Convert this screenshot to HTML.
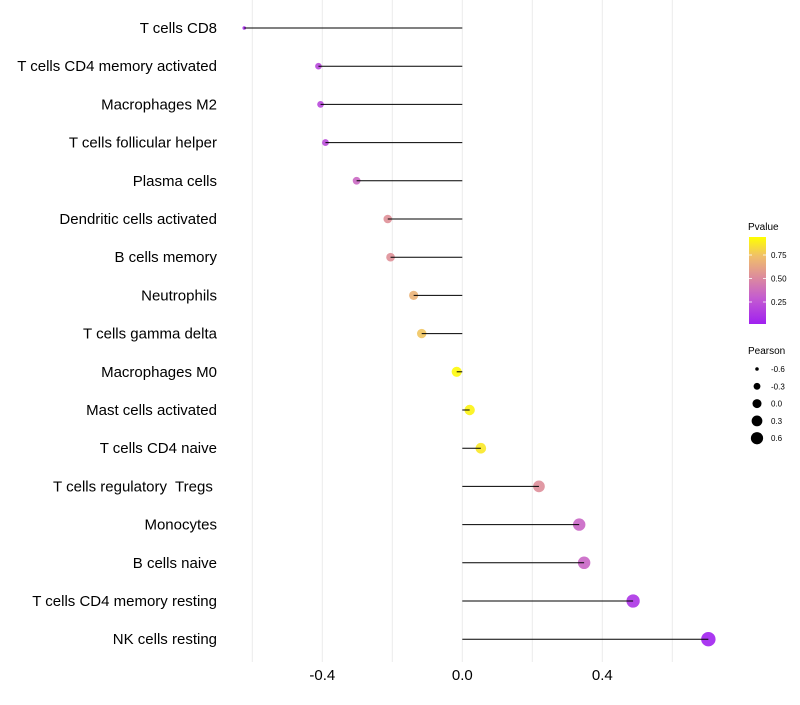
<!DOCTYPE html>
<html><head><meta charset="utf-8"><style>
body{margin:0;background:#fff;font-family:"Liberation Sans",sans-serif}
svg text{font-family:"Liberation Sans",sans-serif;white-space:pre}
</style></head><body>
<svg id="chart" width="800" height="700">
<defs><linearGradient id="pg" x1="0" y1="1" x2="0" y2="0">
<stop offset="0" stop-color="#A020F0"/><stop offset="0.3" stop-color="#C45CD0"/><stop offset="0.55" stop-color="#DE8E9A"/><stop offset="0.78" stop-color="#F0BF6A"/><stop offset="1" stop-color="#FFFF00"/></linearGradient></defs>
<g id="grid"></g>
<g id="marks"></g>
<g id="labels"></g>
<g id="xt"></g>
<g>
<text x="748" y="230" font-size="10">Pvalue</text>
<rect x="749" y="237" width="17" height="87" fill="url(#pg)"/>
<g id="cbt"></g>
</g>
<g id="sizeleg">
<text x="748" y="354" font-size="10">Pearson</text>
</g>
</svg>
<script>
const cells=["T cells CD8","T cells CD4 memory activated","Macrophages M2","T cells follicular helper","Plasma cells","Dendritic cells activated","B cells memory","Neutrophils","T cells gamma delta","Macrophages M0","Mast cells activated","T cells CD4 naive","T cells regulatory  Tregs ","Monocytes","B cells naive","T cells CD4 memory resting","NK cells resting"];
const pearson=[-0.623,-0.411,-0.405,-0.391,-0.302,-0.213,-0.205,-0.139,-0.116,-0.016,0.021,0.053,0.219,0.334,0.348,0.488,0.703];
const pvalue=[0.05,0.2,0.2,0.22,0.36,0.56,0.56,0.72,0.8,0.98,0.96,0.92,0.55,0.35,0.35,0.1,0.01];
const xTicks=[-0.4,0.0,0.4];
const xGrid=[-0.6,-0.4,-0.2,0,0.2,0.4,0.6];
const cbTicks=[0.25,0.5,0.75];
const sizeKeys=[-0.6,-0.3,0.0,0.3,0.6];
const NS="http://www.w3.org/2000/svg";
const X=v=>462.3+v*350;
const Y=i=>28+i*38.2;
const R=v=>Math.sqrt(Math.max(1,26.2+36.9*v));
const stops=[[0,[160,32,240]],[0.3,[196,92,208]],[0.55,[222,142,154]],[0.78,[240,191,106]],[1,[255,255,0]]];
function col(p){for(let i=1;i<stops.length;i++){if(p<=stops[i][0]){const a=stops[i-1],b=stops[i],t=(p-a[0])/(b[0]-a[0]);return "rgb("+a[1].map((c,k)=>Math.round(c+(b[1][k]-c)*t)).join(",")+")";}}return "rgb(255,255,0)";}
function el(t,a,p){const e=document.createElementNS(NS,t);for(const k in a)e.setAttribute(k,a[k]);p.appendChild(e);return e;}
const g=document.getElementById('grid');
xGrid.forEach(v=>{const l=el('line',{x1:X(v),x2:X(v),y1:0,y2:662,stroke:'#ebebeb','stroke-width':1},g);

});
const m=document.getElementById('marks'),lb=document.getElementById('labels');
cells.forEach((c,i)=>{
const pt=el('circle',{cx:X(pearson[i]),cy:Y(i),r:R(pearson[i]),fill:col(pvalue[i]),'fill-opacity':0.9},m);


const s=el('line',{x1:X(0),x2:X(pearson[i]),y1:Y(i),y2:Y(i),stroke:'#000','stroke-width':1},m);


const t=el('text',{x:217,y:Y(i)+5,'text-anchor':'end','font-size':15,fill:'#000'},lb);t.textContent=c;


});
const xt=document.getElementById('xt');
xTicks.forEach(v=>{const t=el('text',{x:X(v),y:680,'text-anchor':'middle','font-size':15,fill:'#000'},xt);t.textContent=v.toFixed(1);

});
const cb=document.getElementById('cbt');
cbTicks.forEach(v=>{const y=325.5-v*94;
el('line',{x1:749,x2:752,y1:y,y2:y,stroke:'#fff','stroke-width':0.8},cb);
el('line',{x1:763,x2:766,y1:y,y2:y,stroke:'#fff','stroke-width':0.8},cb);
const t=el('text',{x:771,y:y+3,'font-size':8,fill:'#000'},cb);t.textContent=v.toFixed(2);

});
const sl=document.getElementById('sizeleg');
sizeKeys.forEach((v,i)=>{const y=369+i*17.3;
const c=el('circle',{cx:757,cy:y,r:R(v)*0.88,fill:'#000'},sl);


const t=el('text',{x:771,y:y+3,'font-size':8,fill:'#000'},sl);t.textContent=v.toFixed(1);

});
</script>
</body></html>
